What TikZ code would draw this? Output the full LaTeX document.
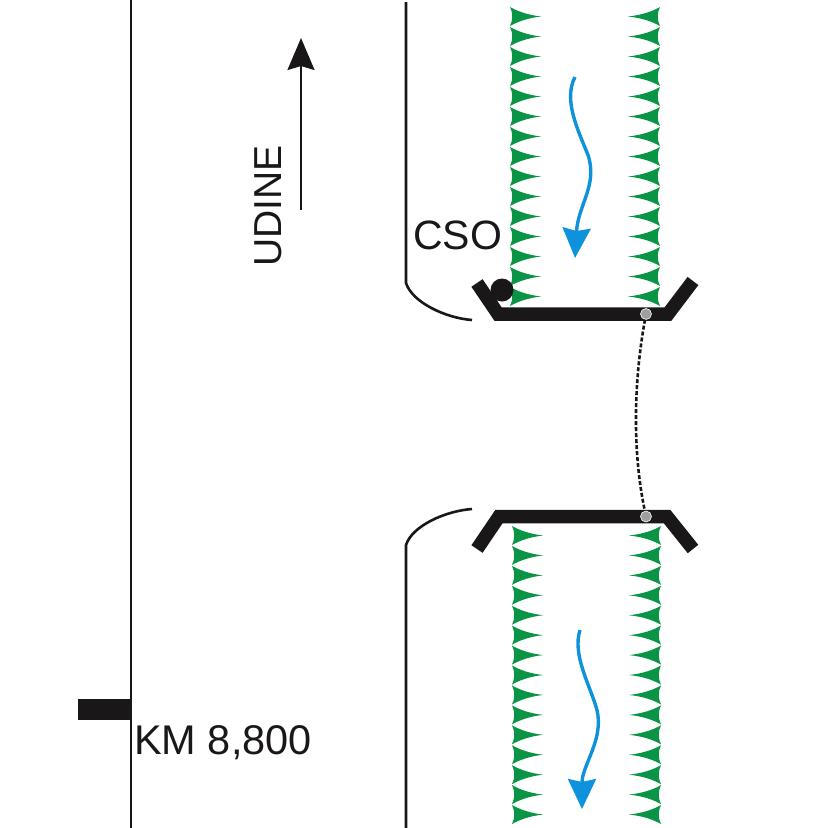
\documentclass[tikz,border=0pt]{standalone}
\usepackage{fontspec}
\setmainfont{Liberation Sans}
\usetikzlibrary{arrows.meta}
\definecolor{bankgreen}{HTML}{0A9445}
\definecolor{flowblue}{HTML}{0F92DC}
\definecolor{bridgeblack}{HTML}{1A1718}
\tikzset{
  bridge/.style={line width=13.5pt, draw=bridgeblack, miter limit=10},
  curb/.style={line width=2.6pt, draw=bridgeblack},
  flow/.style={line width=3.4pt, draw=flowblue, -{Stealth[length=30pt,width=28pt,inset=3pt,flowblue]}},
  label/.style={font=\fontsize{41}{44}\selectfont, inner sep=0pt, text=bridgeblack},
  pier/.style={circle, fill=gray!75, draw=white, line width=.6pt, minimum size=11pt, inner sep=0pt},
}
\newcommand{\toothleft}[2]{\fill[bankgreen] (#1,#2) .. controls (#1+8,#2+4.5) and (#1+18,#2+8) .. (#1+31,#2+9.5)
  .. controls (#1+18,#2+11) and (#1+8,#2+14.5) .. (#1,#2+19) .. controls (#1+3,#2+13) and (#1+3,#2+6) .. (#1,#2);}
\newcommand{\toothright}[2]{\fill[bankgreen] (#1,#2) .. controls (#1-8,#2+4.5) and (#1-18,#2+8) .. (#1-32,#2+9.5)
  .. controls (#1-18,#2+11) and (#1-8,#2+14.5) .. (#1,#2+19) .. controls (#1-3,#2+13) and (#1-3,#2+6) .. (#1,#2);}
\begin{document}
\begin{tikzpicture}[x=1pt,y=-1pt]
\useasboundingbox (0,0) rectangle (826,828);
% road on the left
\coordinate (roadtop) at (131,0);
\coordinate (roadbot) at (131,828);
\draw[curb] (roadtop) -- (roadbot);
\fill[bridgeblack] (78,699) rectangle (131,720);
\node[label, font=\fontsize{41.5}{44}\selectfont, anchor=west] (kmlabel) at (134,743) {KM 8,800};
% direction
\coordinate (dirfrom) at (301,210);
\coordinate (dirto) at (301,38);
\draw[line width=2pt, draw=bridgeblack, -{Stealth[length=32pt,width=27pt,inset=4pt,bridgeblack]}] (dirfrom) -- (dirto);
\node[label, font=\fontsize{39}{44}\selectfont, rotate=90] (udine) at (268,206) {UDINE};
\node[label, anchor=west] (cso) at (413,235) {CSO};
% banks
\foreach \i in {0,...,14}{
  \toothleft{510}{7+20*\i}
  \toothright{660}{7+20*\i}
  \toothleft{512}{526+19.93*\i}
  \toothright{661}{526+19.93*\i}
}
% curbs
\draw[curb] (406,2) -- (406,283) .. controls (412,302) and (445,318) .. (472,320);
\draw[curb] (472,509) .. controls (445,511) and (412,526) .. (406,545) -- (406,828);
% bridges
\draw[bridge] (477,283) -- (498,314) -- (668,314) -- (693,281);
\draw[bridge] (477,549) -- (499,516.5) -- (667,516.5) -- (693,549);
\node[circle, fill=bridgeblack, minimum size=23pt, inner sep=0pt] (csodot) at (502,290) {};
% link
\node[pier] (piertop) at (646,314) {};
\node[pier] (pierbot) at (646,516.5) {};
\draw[line width=2.6pt, draw=bridgeblack, dash pattern=on 4pt off 2pt] (piertop) .. controls (634,380) and (632,450) .. (pierbot);
% flow arrows
\coordinate (flowafrom) at (575,77);
\coordinate (flowato) at (575,258);
\draw[flow] (flowafrom) .. controls (563,100) and (578,130) .. (588,155) .. controls (598,185) and (578,205) .. (flowato);
\coordinate (flowbfrom) at (580,630);
\coordinate (flowbto) at (582,809);
\draw[flow] (flowbfrom) .. controls (572,655) and (590,685) .. (597,710) .. controls (604,740) and (582,765) .. (flowbto);
\end{tikzpicture}
\end{document}
